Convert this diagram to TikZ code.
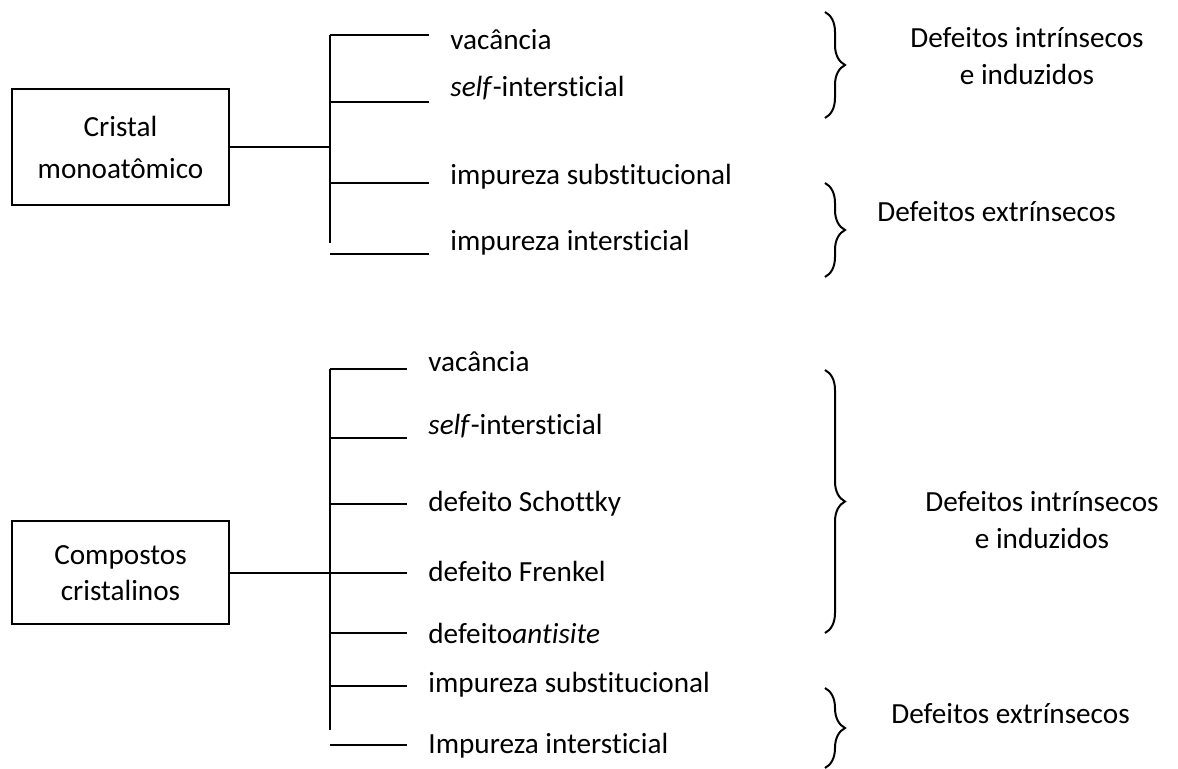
\documentclass[tikz,border=0pt]{standalone}
\usepackage{fontspec}
\setmainfont{Carlito}[Ligatures=NoCommon]
\usetikzlibrary{decorations.pathreplacing}

\tikzset{
  box/.style={draw, line width=1pt, minimum width=108.5pt, align=center, font=\fontsize{14.6}{18}\selectfont},
  item/.style={anchor=base west, inner sep=0pt, font=\fontsize{14.6}{17}\selectfont},
  tag/.style={align=center, inner sep=0pt, font=\fontsize{14.6}{18.5}\selectfont},
  stroke/.style={line width=1pt},
  twig/.style={line width=1pt, shorten >=10.5pt},
  curly/.style={line width=1pt, decorate, decoration={brace, amplitude=10pt}}
}

\begin{document}
\begin{tikzpicture}[x=0.5pt, y=-0.5pt]
        \useasboundingbox (0,0) rectangle (1178,769);
        % cristal monoatomico
        \node [box, minimum height=58pt] (cm) at (120.5,147) {Cristal\\[3pt]monoatômico};
        \coordinate (mj) at (330,147);
        \coordinate (ma) at (330,35);
        \coordinate (mb) at (330,102);
        \coordinate (mc) at (330,183);
        \coordinate (md) at (330,243);
        \coordinate (me) at (330,254);
        \node [item] (mva) at (450,50) {vacância};
        \node [item] (mse) at (450,97) {\textit{self}-intersticial};
        \node [item] (msu) at (450,185) {impureza substitucional};
        \node [item] (min) at (450,251) {impureza intersticial};
        \draw [stroke] (cm.east) -- (mj);
        \draw [stroke] (ma) -- (md);
        \draw [twig] (ma) -- (ma -| mva.west);
        \draw [twig] (mb) -- (mb -| mse.west);
        \draw [twig] (mc) -- (mc -| msu.west);
        \draw [twig] (me) -- (me -| min.west);
        \coordinate (mbr1a) at (825,12);
        \coordinate (mbr1b) at (825,118);
        \coordinate (mbr2a) at (825,183);
        \coordinate (mbr2b) at (825,277);
        \draw [curly] (mbr1a) -- (mbr1b);
        \draw [curly] (mbr2a) -- (mbr2b);
        \node [tag] (mint) at (1027,56) {Defeitos intrínsecos\\e induzidos};
        \node [item] (mext) at (877,222) {Defeitos extrínsecos};
        % compostos cristalinos
        \node [box, minimum height=51.5pt] (cc) at (120.5,573) {Compostos\\cristalinos};
        \coordinate (cj) at (330,573);
        \coordinate (ca) at (330,369);
        \coordinate (cb) at (330,438);
        \coordinate (cc1) at (330,504);
        \coordinate (cd) at (330,573);
        \coordinate (ce) at (330,633);
        \coordinate (cf) at (330,686);
        \coordinate (cg) at (330,730);
        \coordinate (ch) at (330,745);
        \node [item] (cva) at (428,372) {vacância};
        \node [item] (cse) at (428,435) {\textit{self}-intersticial};
        \node [item] (csc) at (428,512) {defeito Schottky};
        \node [item] (cfr) at (428,582) {defeito Frenkel};
        \node [item] (can) at (428,644) {defeito\textit{antisite}};
        \node [item] (csu) at (428,692) {impureza substitucional};
        \node [item] (cin) at (428,753) {Impureza intersticial};
        \draw [stroke] (cc.east) -- (cj);
        \draw [stroke] (ca) -- (cg);
        \draw [twig] (ca) -- (ca -| cva.west);
        \draw [twig] (cb) -- (cb -| cse.west);
        \draw [twig] (cc1) -- (cc1 -| csc.west);
        \draw [twig] (cd) -- (cd -| cfr.west);
        \draw [twig] (ce) -- (ce -| can.west);
        \draw [twig] (cf) -- (cf -| csu.west);
        \draw [twig] (ch) -- (ch -| cin.west);
        \coordinate (cbr1a) at (825,370);
        \coordinate (cbr1b) at (825,633);
        \coordinate (cbr2a) at (825,688);
        \coordinate (cbr2b) at (825,768);
        \draw [curly] (cbr1a) -- (cbr1b);
        \draw [curly] (cbr2a) -- (cbr2b);
        \node [tag] (cint) at (1042,520) {Defeitos intrínsecos\\e induzidos};
        \node [item] (cext) at (891,723) {Defeitos extrínsecos};
\end{tikzpicture}
\end{document}
